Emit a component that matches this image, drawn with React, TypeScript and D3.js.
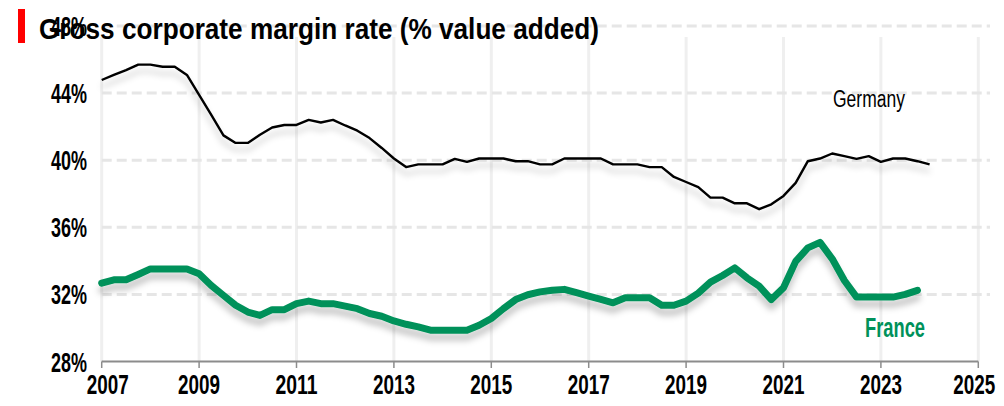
import React from 'react';
import * as d3 from 'd3';

// quarterly series, 2007Q1 onwards (% of value added)
const germany = [
  44.78, 45.08, 45.37, 45.7, 45.7, 45.57, 45.57, 45.08, 43.9, 42.7,
  41.48, 41.03, 41.03, 41.52, 41.95, 42.1, 42.1, 42.4, 42.25, 42.4,
  42.07, 41.76, 41.32, 40.73, 40.1, 39.59, 39.75, 39.75, 39.75, 40.08,
  39.9, 40.1, 40.1, 40.1, 39.94, 39.94, 39.75, 39.75, 40.1, 40.1,
  40.1, 40.1, 39.75, 39.75, 39.75, 39.59, 39.59, 39.0, 38.7, 38.4,
  37.77, 37.77, 37.43, 37.43, 37.08, 37.37, 37.87, 38.65, 39.94, 40.1,
  40.4, 40.24, 40.08, 40.24, 39.9, 40.1, 40.1, 39.94, 39.75,
];
const france = [
  32.67, 32.87, 32.87, 33.19, 33.52, 33.52, 33.52, 33.52, 33.23, 32.53,
  31.94, 31.35, 30.95, 30.75, 31.09, 31.09, 31.45, 31.6, 31.45, 31.45,
  31.3, 31.15, 30.86, 30.7, 30.42, 30.22, 30.06, 29.87, 29.87, 29.87,
  29.87, 30.16, 30.56, 31.15, 31.69, 31.98, 32.15, 32.25, 32.3, 32.1,
  31.9, 31.7, 31.5, 31.8, 31.8, 31.8, 31.35, 31.35, 31.6, 32.08,
  32.73, 33.13, 33.58, 32.99, 32.49, 31.69, 32.4, 33.97, 34.77, 35.1,
  34.12, 32.83, 31.84, 31.84, 31.84, 31.84, 32.0, 32.24,
];
const startYear = 2007;
const yTicks = [28, 32, 36, 40, 44, 48];
const xTicks = [2007, 2009, 2011, 2013, 2015, 2017, 2019, 2021, 2023, 2025];

const W = 1004, H = 406;
const font = "'Liberation Sans Narrow', 'Liberation Sans', Arial, sans-serif";

export default function App() {
  const x = d3.scaleLinear().domain([2007, 2025]).range([101.7, 978.3]);
  const y = d3.scaleLinear().domain([28, 48]).range([361.5, 26]);

  const line = d3.line<number>()
    .x((d, i) => x(startYear + i / 4))
    .y(d => y(d))
    .curve(d3.curveLinear);

  // nudge the end labels so they stay inside the frame
  const labelShift = (t: number) => (t === 2007 ? 6 : t === 2025 ? -4 : 0);

  return (
    <svg width={W} height={H} style={{ position: 'absolute', left: 0, top: 0, background: '#fff' }}>
      <defs>
        <filter id="shadow" x="-5%" y="-20%" width="110%" height="160%">
          <feDropShadow dx="0" dy="7" stdDeviation="3" floodColor="#000" floodOpacity="0.22" />
        </filter>
      </defs>

      {/* vertical grid */}
      {xTicks.map(t => (
        <line key={'v' + t} x1={x(t)} x2={x(t)} y1={37} y2={361.5} stroke="#efefef" strokeWidth={3} />
      ))}
      {/* horizontal dashed grid */}
      {yTicks.filter(t => t > 28).map(t => (
        <line key={'h' + t} x1={101.7} x2={990} y1={y(t)} y2={y(t)} stroke="#e6e6e6" strokeWidth={3} strokeDasharray="10,5" />
      ))}

      {/* x axis */}
      <line x1={x(2007)} x2={x(2025)} y1={361.5} y2={361.5} stroke="#8c8c8c" strokeWidth={2} />
      {xTicks.map(t => (
        <line key={'t' + t} x1={x(t)} x2={x(t)} y1={361.5} y2={368} stroke="#8c8c8c" strokeWidth={1.5} />
      ))}
      {xTicks.map(t => (
        <text key={'xl' + t} x={x(t) + labelShift(t)} y={394} textAnchor="middle"
          fontFamily={font} fontWeight="bold" fontSize={27} textLength={42} lengthAdjust="spacingAndGlyphs" fill="#000">
          {t}
        </text>
      ))}

      {/* y labels */}
      {yTicks.map(t => (
        <text key={'yl' + t} x={87} y={y(t) + 10} textAnchor="end"
          fontFamily={font} fontWeight="bold" fontSize={27} textLength={36} lengthAdjust="spacingAndGlyphs" fill="#000">
          {t}%
        </text>
      ))}

      {/* series */}
      <g filter="url(#shadow)">
        <path d={line(france) || ''} fill="none" stroke="#00915a" strokeWidth={7} strokeLinejoin="round" strokeLinecap="round" />
        <path d={line(germany) || ''} fill="none" stroke="#000" strokeWidth={2.4} strokeLinejoin="round" />
      </g>

      <text x={833} y={107} fontFamily={font} fontSize={23} textLength={72} lengthAdjust="spacingAndGlyphs" fill="#000">Germany</text>
      <text x={865} y={337} fontFamily={font} fontWeight="bold" fontSize={27} textLength={60} lengthAdjust="spacingAndGlyphs" fill="#00915a">France</text>

      {/* title */}
      <rect x={18} y={9} width={7} height={34} fill="#ff0000" />
      <text x={39} y={38.5} fontFamily="'Liberation Sans', Arial, sans-serif" fontWeight="bold" fontSize={30}
        textLength={560} lengthAdjust="spacingAndGlyphs" fill="#000">
        Gross corporate margin rate (% value added)
      </text>
    </svg>
  );
}
